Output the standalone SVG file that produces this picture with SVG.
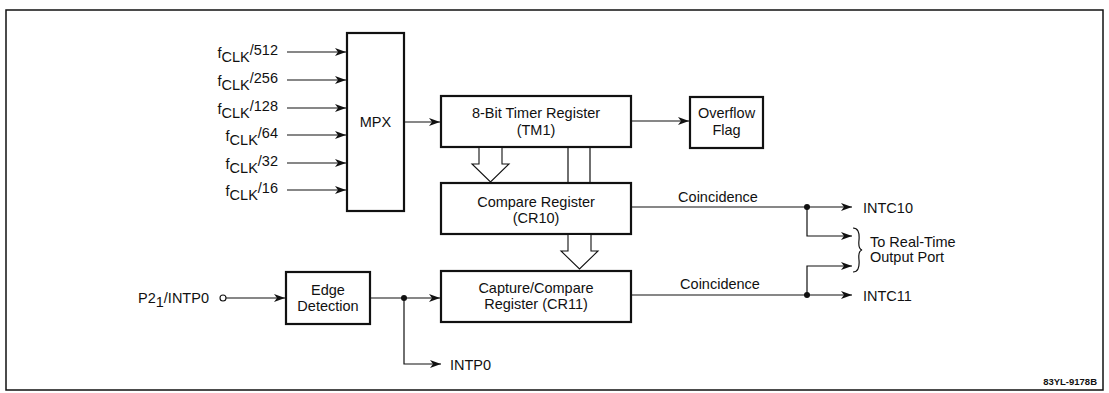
<svg xmlns="http://www.w3.org/2000/svg" width="1109" height="393" viewBox="0 0 1109 393">
<defs>
<style>
text{font-family:"Liberation Sans",Arial,sans-serif;font-size:14.5px;fill:#111}
.c{text-anchor:middle}
.box{fill:#fff;stroke:#111;stroke-width:2.2}
.ln{fill:none;stroke:#111;stroke-width:1.2}
.hol{fill:#fff;stroke:#111;stroke-width:1.1}
.dot{fill:#111}
</style>
<marker id="ah" markerUnits="userSpaceOnUse" markerWidth="12" markerHeight="10" refX="11" refY="5" orient="auto" viewBox="0 0 12 10">
<path d="M0,1 L11,5 L0,9 L3,5 z" fill="#111"/>
</marker>
</defs>
<rect x="6" y="10" width="1097" height="380" fill="none" stroke="#111" stroke-width="1.5"/>

<g id="inputs">
<text x="278" y="58" text-anchor="end">f<tspan dy="4">CLK</tspan><tspan dy="-7">/512</tspan></text>
<text x="278" y="86" text-anchor="end">f<tspan dy="4">CLK</tspan><tspan dy="-7">/256</tspan></text>
<text x="278" y="114" text-anchor="end">f<tspan dy="4">CLK</tspan><tspan dy="-7">/128</tspan></text>
<text x="278" y="141" text-anchor="end">f<tspan dy="4">CLK</tspan><tspan dy="-7">/64</tspan></text>
<text x="278" y="169" text-anchor="end">f<tspan dy="4">CLK</tspan><tspan dy="-7">/32</tspan></text>
<text x="278" y="196" text-anchor="end">f<tspan dy="4">CLK</tspan><tspan dy="-7">/16</tspan></text>
</g>

<g id="mpx">
<rect class="box" x="347" y="33" width="57" height="178"/>
<text class="c" x="375.5" y="127">MPX</text>
</g>

<g id="tm1">
<rect class="box" x="441" y="96" width="190" height="51"/>
<text class="c" x="536" y="118">8-Bit Timer Register</text>
<text class="c" x="536" y="135">(TM1)</text>
</g>

<g id="overflow">
<rect class="box" x="690" y="97" width="73" height="51"/>
<text class="c" x="726.5" y="118">Overflow</text>
<text class="c" x="726.5" y="135">Flag</text>
</g>

<g id="cr10">
<rect class="box" x="441" y="183" width="190" height="51"/>
<text class="c" x="536" y="207">Compare Register</text>
<text class="c" x="536" y="223">(CR10)</text>
</g>

<g id="cr11">
<rect class="box" x="441" y="271" width="190" height="51"/>
<text class="c" x="536" y="293">Capture/Compare</text>
<text class="c" x="536" y="309">Register (CR11)</text>
</g>

<g id="edge">
<rect class="box" x="286" y="272" width="84" height="52"/>
<text class="c" x="328" y="295">Edge</text>
<text class="c" x="328" y="311">Detection</text>
</g>

<g id="connectors">
<path class="ln" d="M287,52 H346" marker-end="url(#ah)"/>
<path class="ln" d="M287,80 H346" marker-end="url(#ah)"/>
<path class="ln" d="M287,108 H346" marker-end="url(#ah)"/>
<path class="ln" d="M287,135 H346" marker-end="url(#ah)"/>
<path class="ln" d="M287,163 H346" marker-end="url(#ah)"/>
<path class="ln" d="M287,190 H346" marker-end="url(#ah)"/>
<path class="ln" d="M405,122 H440" marker-end="url(#ah)"/>
<path class="ln" d="M632,121 H689" marker-end="url(#ah)"/>
<path class="hol" d="M479,148 V164 H472 L490.5,182 L509,164 H502 V148"/>
<path class="ln" d="M568,148 V182 M590,148 V182"/>
<path class="hol" d="M568,235 V251 H561 L579.5,269 L598,251 H591 V235"/>
<path class="ln" d="M632,207 H807 M807,207 H852" marker-end="url(#ah)"/>
<path class="ln" d="M807,207 V236 H852" marker-end="url(#ah)"/>
<path class="ln" d="M632,295 H852" marker-end="url(#ah)"/>
<path class="ln" d="M807,295 V266 H852" marker-end="url(#ah)"/>
<circle class="dot" cx="807" cy="207" r="3"/>
<circle class="dot" cx="807" cy="295" r="3"/>
<path class="ln" d="M853,228 Q860,228 859,240 Q858,249 862,250 Q858,251 859,260 Q860,272 853,272"/>
<circle cx="223" cy="298" r="3" fill="#fff" stroke="#111" stroke-width="1.1"/>
<path class="ln" d="M226,298 H285" marker-end="url(#ah)"/>
<path class="ln" d="M371,298 H440" marker-end="url(#ah)"/>
<circle class="dot" cx="404" cy="298" r="3"/>
<path class="ln" d="M404,298 V364 H441" marker-end="url(#ah)"/>
</g>

<g id="labels">
<text class="c" x="718" y="202">Coincidence</text>
<text class="c" x="720" y="289">Coincidence</text>
<text x="863" y="213">INTC10</text>
<text x="863" y="301">INTC11</text>
<text x="870" y="247">To Real-Time</text>
<text x="870" y="262">Output Port</text>
<text x="138" y="303">P2<tspan dy="4">1</tspan><tspan dy="-4">/INTP0</tspan></text>
<text x="450" y="370">INTP0</text>
<text x="1097" y="385" text-anchor="end" style="font-size:9.5px;font-weight:bold">83YL-9178B</text>
</g>
</svg>
